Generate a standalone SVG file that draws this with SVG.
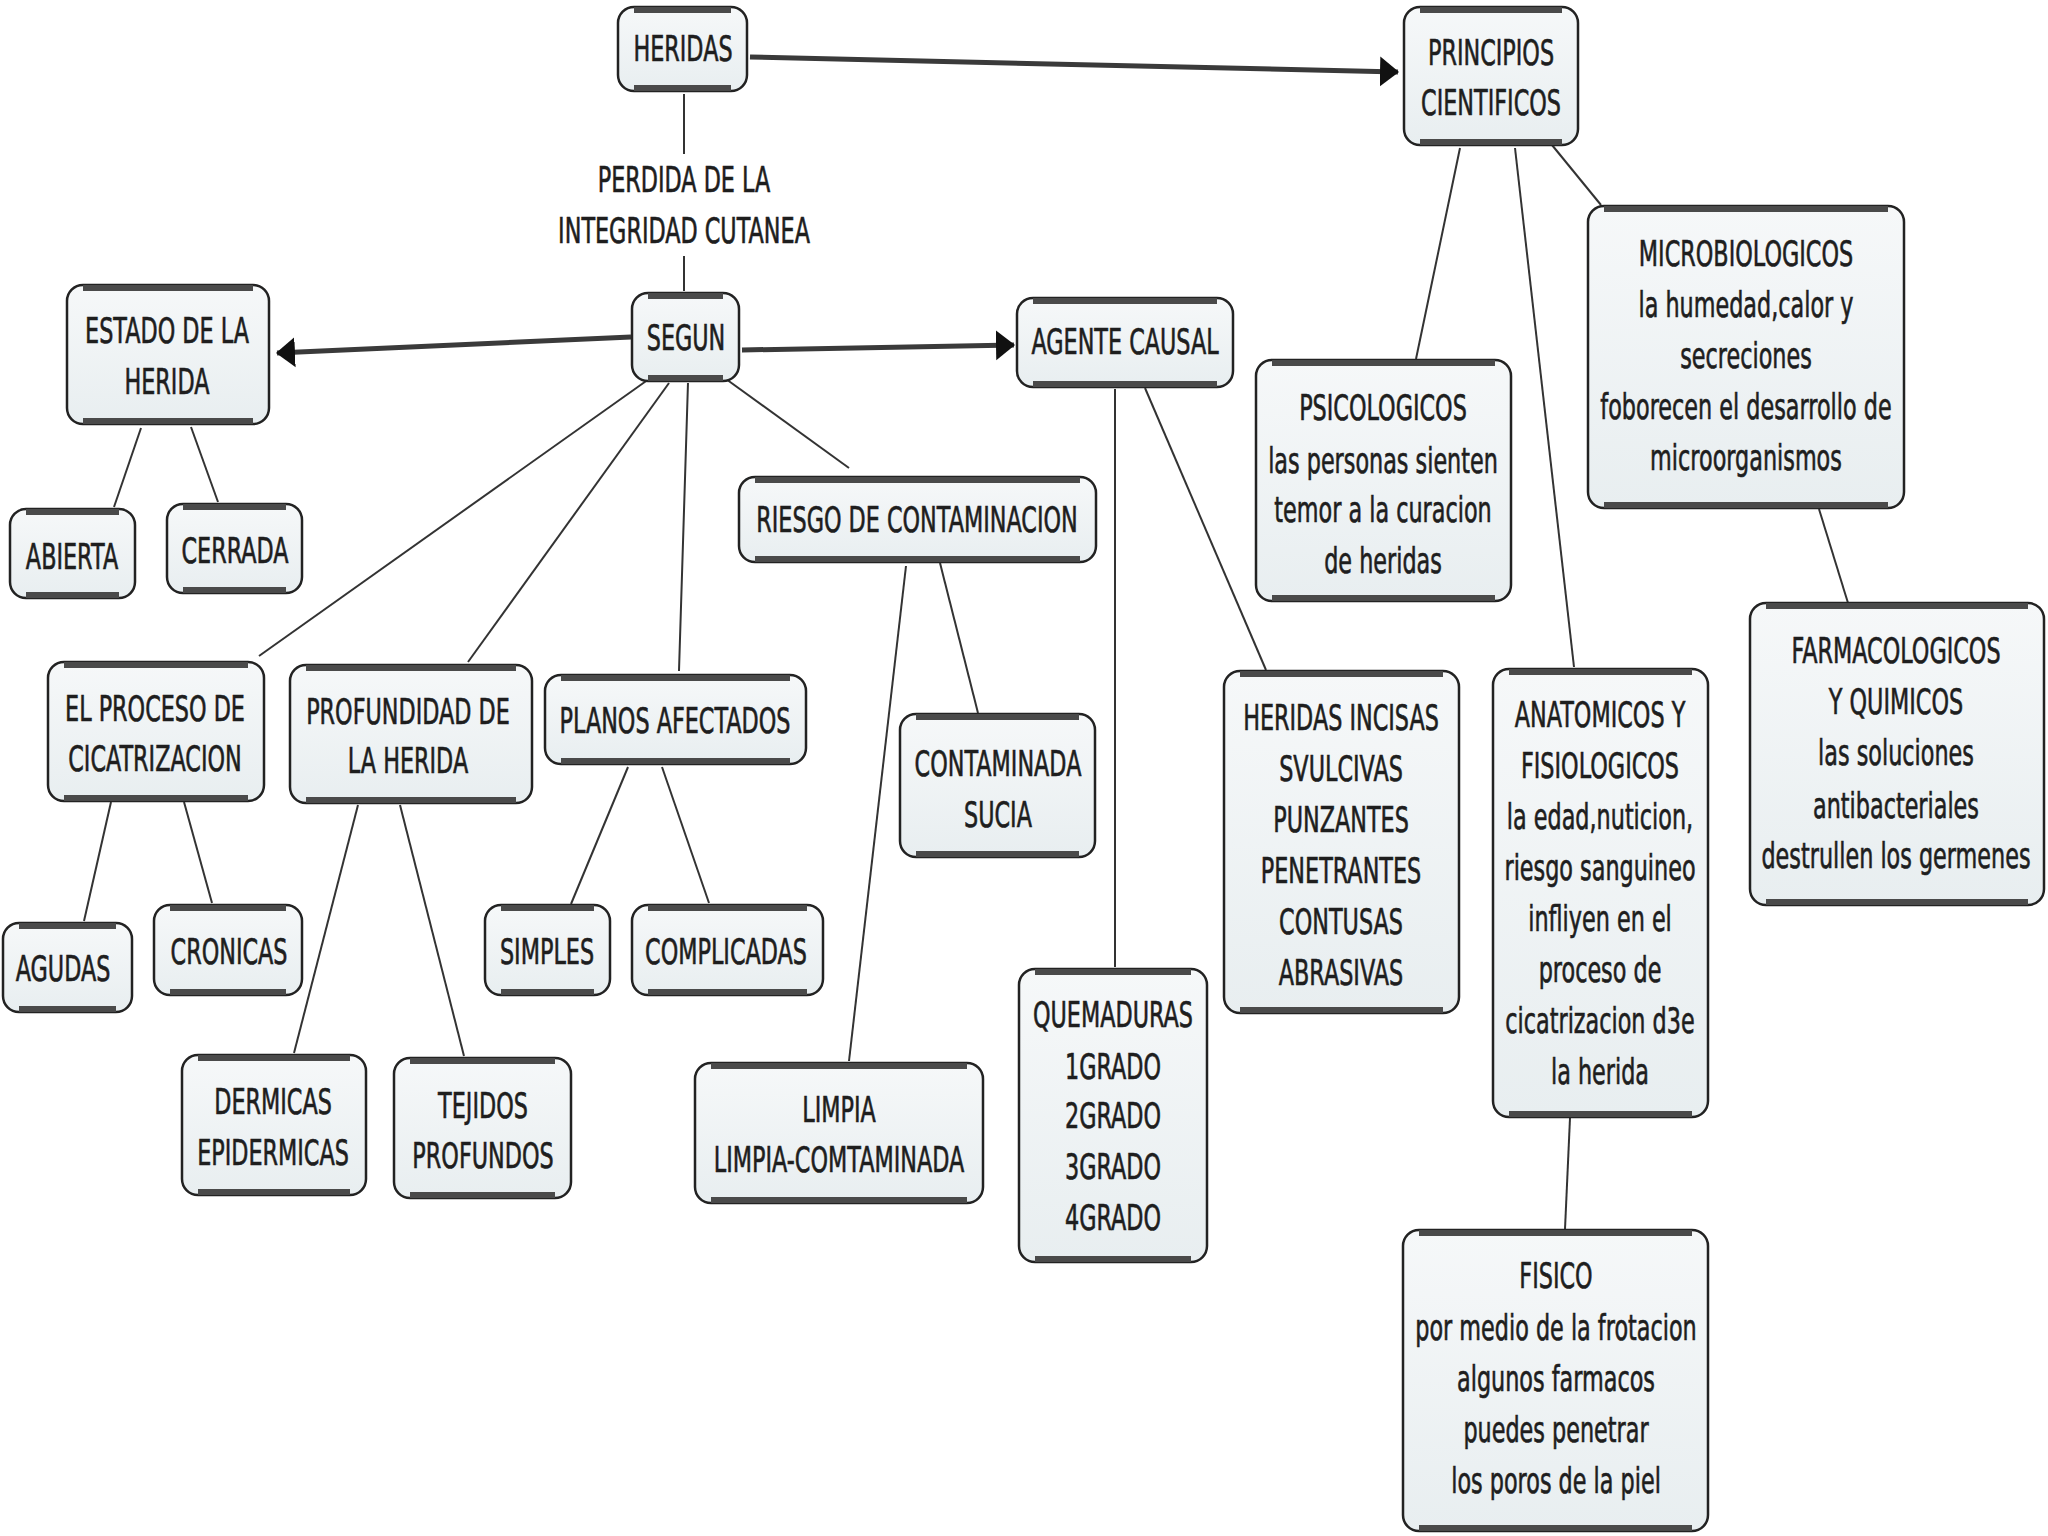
<svg xmlns="http://www.w3.org/2000/svg" width="2048" height="1536" viewBox="0 0 2048 1536">
<defs>
<linearGradient id="fill" x1="0" y1="0" x2="0" y2="1">
<stop offset="0" stop-color="#f6f8f9"/>
<stop offset="1" stop-color="#e8eef0"/>
</linearGradient>
<marker id="ah" markerUnits="userSpaceOnUse" markerWidth="20" markerHeight="32" refX="18" refY="16" orient="auto">
<path d="M0,1 L19,16 L0,31 Z" fill="#111"/>
</marker>
</defs>
<style>
.box{fill:url(#fill);stroke:#222;stroke-width:2.5}
.band{fill:none;stroke:#4a4a4a;stroke-width:6}
.t{font-family:"DejaVu Sans",Verdana,sans-serif;font-size:36px;fill:#1e1e1e;stroke:#1e1e1e;stroke-width:0.7;text-anchor:middle}
.ln{fill:none;stroke:#333;stroke-width:2}
.ar{fill:none;stroke:#3a3a3a;stroke-width:5;marker-end:url(#ah)}
</style>
<rect width="2048" height="1536" fill="#fff"/>
<g id="connectors">
<path class="ar" d="M750,57 L1398,72"/>
<path class="ln" d="M684,94 L684,154"/>
<path class="ln" d="M684,256 L684,291"/>
<path class="ar" d="M631,337 L277,353"/>
<path class="ar" d="M742,350 L1014,345"/>
<path class="ln" d="M649,379 L259,656"/>
<path class="ln" d="M669,383 L468,662"/>
<path class="ln" d="M688,383 L679,671"/>
<path class="ln" d="M726,379 L849,468"/>
<path class="ln" d="M141,428 L114,507"/>
<path class="ln" d="M191,427 L218,502"/>
<path class="ln" d="M111,802 L84,921"/>
<path class="ln" d="M184,802 L212,903"/>
<path class="ln" d="M358,805 L294,1053"/>
<path class="ln" d="M400,805 L464,1056"/>
<path class="ln" d="M628,767 L571,904"/>
<path class="ln" d="M662,767 L709,903"/>
<path class="ln" d="M906,566 L849,1061"/>
<path class="ln" d="M940,563 L978,713"/>
<path class="ln" d="M1115,389 L1115,967"/>
<path class="ln" d="M1145,388 L1266,670"/>
<path class="ln" d="M1460,148 L1416,359"/>
<path class="ln" d="M1515,148 L1574,667"/>
<path class="ln" d="M1552,145 L1601,205"/>
<path class="ln" d="M1819,509 L1848,603"/>
<path class="ln" d="M1570,1118 L1565,1229"/>
</g>
<g id="perdida-label">
<text class="t" transform="matrix(0.62,0,0,1,684,0)"><tspan x="0" y="192">PERDIDA DE LA</tspan><tspan x="0" y="243">INTEGRIDAD CUTANEA</tspan></text>
</g>
<g id="heridas">
<rect class="box" x="618" y="7" width="129" height="84" rx="16"/>
<path class="band" d="M634,10 H731 M634,88 H731"/>
<text class="t" transform="matrix(0.62,0,0,1,683,0)" y="61">HERIDAS</text>
</g>
<g id="principios">
<rect class="box" x="1404" y="7" width="174" height="138" rx="16"/>
<path class="band" d="M1420,10 H1562 M1420,142 H1562"/>
<text class="t" transform="matrix(0.62,0,0,1,1491,0)"><tspan x="0" y="65">PRINCIPIOS</tspan><tspan x="0" y="115">CIENTIFICOS</tspan></text>
</g>
<g id="segun">
<rect class="box" x="632" y="293" width="107" height="88" rx="16"/>
<path class="band" d="M648,296 H723 M648,378 H723"/>
<text class="t" transform="matrix(0.62,0,0,1,686,0)" y="350">SEGUN</text>
</g>
<g id="estado">
<rect class="box" x="67" y="285" width="202" height="139" rx="16"/>
<path class="band" d="M83,288 H253 M83,421 H253"/>
<text class="t" transform="matrix(0.62,0,0,1,167,0)"><tspan x="0" y="343">ESTADO DE LA</tspan><tspan x="0" y="394">HERIDA</tspan></text>
</g>
<g id="agente">
<rect class="box" x="1017" y="298" width="216" height="89" rx="16"/>
<path class="band" d="M1033,301 H1217 M1033,384 H1217"/>
<text class="t" transform="matrix(0.62,0,0,1,1125,0)" y="354">AGENTE CAUSAL</text>
</g>
<g id="abierta">
<rect class="box" x="10" y="509" width="125" height="89" rx="16"/>
<path class="band" d="M26,512 H119 M26,595 H119"/>
<text class="t" transform="matrix(0.62,0,0,1,72,0)" y="569">ABIERTA</text>
</g>
<g id="cerrada">
<rect class="box" x="167" y="504" width="135" height="89" rx="16"/>
<path class="band" d="M183,507 H286 M183,590 H286"/>
<text class="t" transform="matrix(0.62,0,0,1,235,0)" y="563">CERRADA</text>
</g>
<g id="riesgo">
<rect class="box" x="739" y="477" width="357" height="85" rx="16"/>
<path class="band" d="M755,480 H1080 M755,559 H1080"/>
<text class="t" transform="matrix(0.62,0,0,1,917,0)" y="532">RIESGO DE CONTAMINACION</text>
</g>
<g id="proceso">
<rect class="box" x="48" y="662" width="216" height="139" rx="16"/>
<path class="band" d="M64,665 H248 M64,798 H248"/>
<text class="t" transform="matrix(0.62,0,0,1,155,0)"><tspan x="0" y="721">EL PROCESO DE</tspan><tspan x="0" y="771">CICATRIZACION</tspan></text>
</g>
<g id="profundidad">
<rect class="box" x="290" y="665" width="242" height="138" rx="16"/>
<path class="band" d="M306,668 H516 M306,800 H516"/>
<text class="t" transform="matrix(0.62,0,0,1,408,0)"><tspan x="0" y="724">PROFUNDIDAD DE</tspan><tspan x="0" y="773">LA HERIDA</tspan></text>
</g>
<g id="planos">
<rect class="box" x="545" y="675" width="261" height="89" rx="16"/>
<path class="band" d="M561,678 H790 M561,761 H790"/>
<text class="t" transform="matrix(0.62,0,0,1,675,0)" y="733">PLANOS AFECTADOS</text>
</g>
<g id="contaminada">
<rect class="box" x="900" y="714" width="195" height="143" rx="16"/>
<path class="band" d="M916,717 H1079 M916,854 H1079"/>
<text class="t" transform="matrix(0.62,0,0,1,998,0)"><tspan x="0" y="776">CONTAMINADA</tspan><tspan x="0" y="827">SUCIA</tspan></text>
</g>
<g id="agudas">
<rect class="box" x="3" y="923" width="129" height="89" rx="16"/>
<path class="band" d="M19,926 H116 M19,1009 H116"/>
<text class="t" transform="matrix(0.62,0,0,1,63,0)" y="981">AGUDAS</text>
</g>
<g id="cronicas">
<rect class="box" x="154" y="905" width="148" height="90" rx="16"/>
<path class="band" d="M170,908 H286 M170,992 H286"/>
<text class="t" transform="matrix(0.62,0,0,1,229,0)" y="964">CRONICAS</text>
</g>
<g id="simples">
<rect class="box" x="485" y="905" width="125" height="90" rx="16"/>
<path class="band" d="M501,908 H594 M501,992 H594"/>
<text class="t" transform="matrix(0.62,0,0,1,547,0)" y="964">SIMPLES</text>
</g>
<g id="complicadas">
<rect class="box" x="632" y="905" width="191" height="90" rx="16"/>
<path class="band" d="M648,908 H807 M648,992 H807"/>
<text class="t" transform="matrix(0.62,0,0,1,726,0)" y="964">COMPLICADAS</text>
</g>
<g id="dermicas">
<rect class="box" x="182" y="1055" width="184" height="140" rx="16"/>
<path class="band" d="M198,1058 H350 M198,1192 H350"/>
<text class="t" transform="matrix(0.62,0,0,1,273,0)"><tspan x="0" y="1114">DERMICAS</tspan><tspan x="0" y="1165">EPIDERMICAS</tspan></text>
</g>
<g id="tejidos">
<rect class="box" x="394" y="1058" width="177" height="140" rx="16"/>
<path class="band" d="M410,1061 H555 M410,1195 H555"/>
<text class="t" transform="matrix(0.62,0,0,1,483,0)"><tspan x="0" y="1118">TEJIDOS</tspan><tspan x="0" y="1168">PROFUNDOS</tspan></text>
</g>
<g id="limpia">
<rect class="box" x="695" y="1063" width="288" height="140" rx="16"/>
<path class="band" d="M711,1066 H967 M711,1200 H967"/>
<text class="t" transform="matrix(0.62,0,0,1,839,0)"><tspan x="0" y="1122">LIMPIA</tspan><tspan x="0" y="1172">LIMPIA-COMTAMINADA</tspan></text>
</g>
<g id="quemaduras">
<rect class="box" x="1019" y="969" width="188" height="293" rx="16"/>
<path class="band" d="M1035,972 H1191 M1035,1259 H1191"/>
<text class="t" transform="matrix(0.62,0,0,1,1113,0)"><tspan x="0" y="1027">QUEMADURAS</tspan><tspan x="0" y="1079">1GRADO</tspan><tspan x="0" y="1128">2GRADO</tspan><tspan x="0" y="1179">3GRADO</tspan><tspan x="0" y="1230">4GRADO</tspan></text>
</g>
<g id="incisas">
<rect class="box" x="1224" y="671" width="235" height="342" rx="16"/>
<path class="band" d="M1240,674 H1443 M1240,1010 H1443"/>
<text class="t" transform="matrix(0.62,0,0,1,1341,0)"><tspan x="0" y="730">HERIDAS INCISAS</tspan><tspan x="0" y="781">SVULCIVAS</tspan><tspan x="0" y="832">PUNZANTES</tspan><tspan x="0" y="883">PENETRANTES</tspan><tspan x="0" y="934">CONTUSAS</tspan><tspan x="0" y="985">ABRASIVAS</tspan></text>
</g>
<g id="psicologicos">
<rect class="box" x="1256" y="360" width="255" height="241" rx="16"/>
<path class="band" d="M1272,363 H1495 M1272,598 H1495"/>
<text class="t" transform="matrix(0.62,0,0,1,1383,0)"><tspan x="0" y="420">PSICOLOGICOS</tspan><tspan x="0" y="473">las personas sienten</tspan><tspan x="0" y="522">temor a la curacion</tspan><tspan x="0" y="573">de heridas</tspan></text>
</g>
<g id="microbiologicos">
<rect class="box" x="1588" y="206" width="316" height="302" rx="16"/>
<path class="band" d="M1604,209 H1888 M1604,505 H1888"/>
<text class="t" transform="matrix(0.62,0,0,1,1746,0)"><tspan x="0" y="266">MICROBIOLOGICOS</tspan><tspan x="0" y="317">la humedad,calor y</tspan><tspan x="0" y="368">secreciones</tspan><tspan x="0" y="419">foborecen el desarrollo de</tspan><tspan x="0" y="470">microorganismos</tspan></text>
</g>
<g id="farmacologicos">
<rect class="box" x="1750" y="603" width="294" height="302" rx="16"/>
<path class="band" d="M1766,606 H2028 M1766,902 H2028"/>
<text class="t" transform="matrix(0.62,0,0,1,1896,0)"><tspan x="0" y="663">FARMACOLOGICOS</tspan><tspan x="0" y="714">Y QUIMICOS</tspan><tspan x="0" y="765">las soluciones</tspan><tspan x="0" y="818">antibacteriales</tspan><tspan x="0" y="868">destrullen los germenes</tspan></text>
</g>
<g id="anatomicos">
<rect class="box" x="1493" y="669" width="215" height="448" rx="16"/>
<path class="band" d="M1509,672 H1692 M1509,1114 H1692"/>
<text class="t" transform="matrix(0.62,0,0,1,1600,0)"><tspan x="0" y="727">ANATOMICOS Y</tspan><tspan x="0" y="778">FISIOLOGICOS</tspan><tspan x="0" y="829">la edad,nuticion,</tspan><tspan x="0" y="880">riesgo sanguineo</tspan><tspan x="0" y="931">infliyen en el</tspan><tspan x="0" y="982">proceso de</tspan><tspan x="0" y="1033">cicatrizacion d3e</tspan><tspan x="0" y="1084">la herida</tspan></text>
</g>
<g id="fisico">
<rect class="box" x="1403" y="1230" width="305" height="301" rx="16"/>
<path class="band" d="M1419,1233 H1692 M1419,1528 H1692"/>
<text class="t" transform="matrix(0.62,0,0,1,1556,0)"><tspan x="0" y="1288">FISICO</tspan><tspan x="0" y="1340">por medio de la frotacion</tspan><tspan x="0" y="1391">algunos farmacos</tspan><tspan x="0" y="1442">puedes penetrar</tspan><tspan x="0" y="1493">los poros de la piel</tspan></text>
</g>
</svg>
